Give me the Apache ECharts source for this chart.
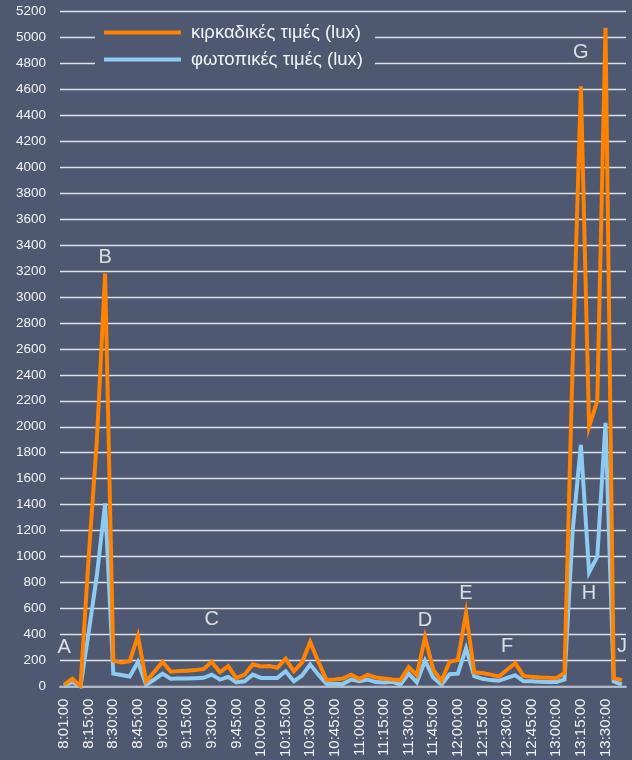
<!DOCTYPE html>
<html>
<head>
<meta charset="utf-8">
<script src="https://cdn.jsdelivr.net/npm/echarts@6/dist/echarts.min.js"></script>
<style>
html,body{margin:0;padding:0;background:#4e5871;}
#chart{width:632px;height:760px;}
</style>
</head>
<body>
<div id="chart"></div>
<script>
// categories (5-minute steps from 8:01)
var categories = [];
(function(){
  for (var i = 0; i < 69; i++) {
    var m = i === 0 ? 8*60+1 : 8*60 + i*5;
    var h = Math.floor(m/60), mm = m % 60;
    categories.push(h + ':' + (mm < 10 ? '0' + mm : mm) + ':00');
  }
})();

var seriesNames = ['κιρκαδικές τιμές (lux)', 'φωτοπικές τιμές (lux)'];

var circadian = [15,60,5,1000,1900,3180,200,185,195,390,
  40,115,190,115,120,123,127,135,190,110,
  157,65,92,172,155,158,145,215,118,185,
  345,190,50,55,62,92,58,90,70,62,
  55,50,150,88,380,130,45,190,205,565,
  110,105,92,78,130,180,82,75,70,68,
  65,105,2500,4620,2000,2200,5070,65,50];

var photopic = [5,35,0,420,860,1410,100,90,78,190,
  15,55,100,60,62,63,65,68,92,54,
  75,33,41,92,67,67,67,118,41,85,
  170,92,21,21,21,54,41,54,35,31,
  38,15,100,33,200,70,15,95,100,295,
  80,60,50,45,67,88,41,41,38,35,
  35,55,1200,1860,880,1000,2030,41,15];

// annotation letters: [category position, value]
var letters = ['A','B','C','D','E','F','G','H','J'];
var letterPos = [0.4, 4.9, 18.1, 44.2, 49.2, 53.8, 62.9, 64.1, 68.1];
var letterVal = [300, 3300, 517, 509, 718, 309, 4880, 718, 309];

var yMin = 0, yMax = 5200, yInterval = 200;

var chart = echarts.init(document.getElementById('chart'));
var txt = '#f2f2f2';
var font = 'Liberation Sans, Arial, sans-serif';

chart.setOption({
  backgroundColor: '#4e5871',
  animation: false,
  textStyle: {fontFamily: font},
  grid: {left: 60, right: 6, top: 11, bottom: 73},
  legend: {
    orient: 'vertical',
    left: 95, top: 18,
    padding: [5, 12, 5, 9],
    itemGap: 8,
    itemWidth: 77, itemHeight: 4,
    icon: 'rect',
    backgroundColor: '#4e5871',
    textStyle: {color: txt, fontSize: 18.5, fontFamily: font, padding: [0,0,0,5]},
    data: seriesNames
  },
  xAxis: {
    type: 'category',
    data: categories,
    boundaryGap: true,
    axisLine: {show: true, lineStyle: {color: '#b4b8c2', width: 2}},
    axisTick: {show: false},
    axisLabel: {interval: 2, rotate: 90, color: txt, fontSize: 15, margin: 12, fontFamily: font}
  },
  yAxis: {
    type: 'value',
    min: yMin, max: yMax, interval: yInterval,
    axisLine: {show: false},
    axisTick: {show: false},
    axisLabel: {color: txt, fontSize: 13.5, margin: 14, fontFamily: font,
      formatter: function(v){ return String(v); }},
    splitLine: {lineStyle: {color: '#dfe1e6', width: 1.3}}
  },
  series: [
    {
      name: seriesNames[1], type: 'line', data: photopic, z: 3,
      symbol: 'none', lineStyle: {color: '#8ecbf2', width: 4, join: 'miter'},
      itemStyle: {color: '#8ecbf2'}
    },
    {
      name: seriesNames[0], type: 'line', data: circadian, z: 4,
      symbol: 'none', lineStyle: {color: '#ff8200', width: 4, join: 'miter'},
      itemStyle: {color: '#ff8200'}
    },
    {
      type: 'scatter', silent: true, z: 5,
      symbolSize: 0,
      data: letters.map(function(l, i){ return {value: [letterPos[i], letterVal[i]], name: l}; }),
      label: {show: true, position: 'inside', formatter: '{b}', color: '#ffffff', fontSize: 20, fontFamily: font}
    }
  ]
});
</script>
</body>
</html>
